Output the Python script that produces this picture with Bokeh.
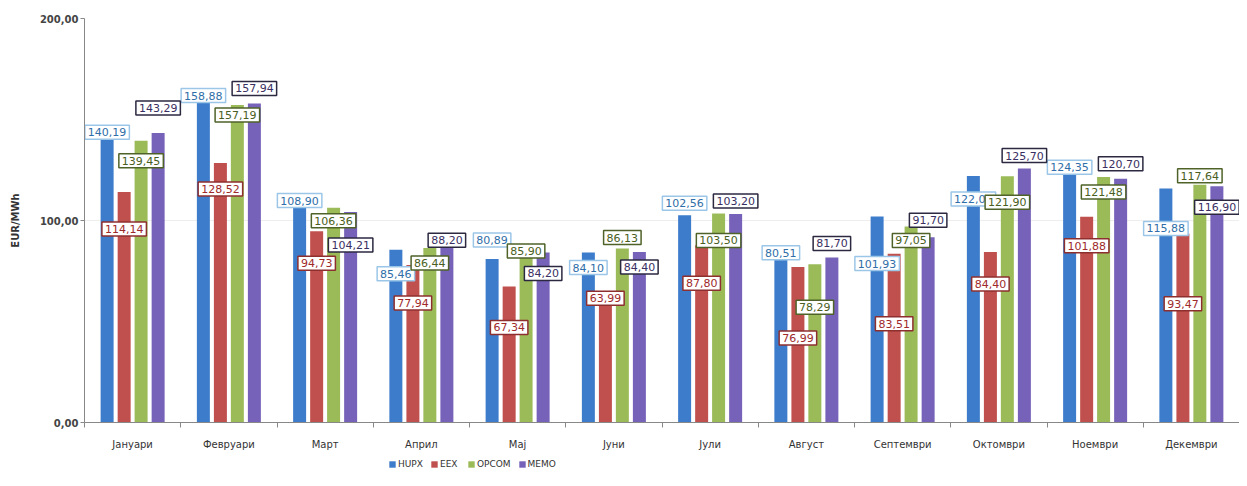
from bokeh.plotting import figure
from bokeh.layouts import column
from bokeh.models import ColumnDataSource, FixedTicker, Legend, LegendItem, Range1d
from bokeh.core.properties import value
from bokeh.embed import file_html
from bokeh.resources import INLINE

months = ["Јануари", "Февруари", "Март", "Април", "Мај", "Јуни",
          "Јули", "Август", "Септември", "Октомври", "Ноември", "Декември"]
series_names = ["HUPX", "EEX", "OPCOM", "MEMO"]
hupx = [140.19, 158.88, 108.90, 85.46, 80.89, 84.10, 102.56, 80.51, 101.93, 122.09, 124.35, 115.88]
eex = [114.14, 128.52, 94.73, 77.94, 67.34, 63.99, 87.80, 76.99, 83.51, 84.40, 101.88, 93.47]
opcom = [139.45, 157.19, 106.36, 86.44, 85.90, 86.13, 103.50, 78.29, 97.05, 121.90, 121.48, 117.64]
memo = [143.29, 157.94, 104.21, 88.20, 84.20, 84.40, 103.20, 81.70, 91.70, 125.70, 120.70, 116.90]
y_ticks = [0, 100, 200]
y_tick_labels = ["0,00", "100,00", "200,00"]

# label placement (screen px, positive = downwards from bar top) - styling only
label_shift = [
    [-7, -6, -2, 24, -19, 15, -12, -7, 47, 23, -4, 40],
    [37, 26, 32, 38, 41, 5, 38, 71, 70, 32, 29, 70],
    [20, 10, 13, 15, 2, -11, 27, 43, 14, 26, 15, -9],
    [-25, -15, 33, -4, 21, 15, -13, -14, -17, -13, -15, 21],
]

bar_colors = ["#3D7CCB", "#C0504D", "#9BBB59", "#7662B8"]
text_colors = ["#2F6EA8", "#9E2A2B", "#4A5E22", "#3A2F62"]
border_colors = ["#9CC6E8", "#8E2F2F", "#4F6228", "#2B2840"]
offsets = [-0.265, -0.088, 0.088, 0.265]
FONT = "DejaVu Sans"

p = figure(width=1239, height=452, x_range=Range1d(0, 12), y_range=Range1d(0, 200),
           output_backend="svg", toolbar_location=None,
           min_border_left=84, min_border_right=0, min_border_top=18, min_border_bottom=30)
p.outline_line_color = None
p.xgrid.grid_line_color = None
p.ygrid.grid_line_color = "#eeeeee"
p.ygrid.ticker = FixedTicker(ticks=[100])

centers = [i + 0.5 for i in range(len(months))]
renderers = []
for k, vals in enumerate([hupx, eex, opcom, memo]):
    src = ColumnDataSource(dict(
        x=[c + offsets[k] for c in centers],
        top=vals,
        txt=[f"{v:.2f}".replace(".", ",") for v in vals],
        yoff=label_shift[k],
    ))
    r = p.vbar(x="x", top="top", width=0.135, source=src, fill_color=bar_colors[k], line_color=None)
    renderers.append((r, src))

for k, (r, src) in enumerate(renderers):
    p.text(x="x", y="top", text="txt", y_offset="yoff", source=src,
           text_align="center", text_baseline="middle",
           text_font=value(FONT), text_font_size="11px", text_color=text_colors[k],
           background_fill_color="white", border_line_color=border_colors[k],
           border_line_width=1.5, padding=3)

# x axis
p.xaxis.ticker = FixedTicker(ticks=centers, minor_ticks=list(range(13)))
p.xaxis.major_label_overrides = {c: m for c, m in zip(centers, months)}
p.xaxis.major_tick_out = 0
p.xaxis.major_tick_in = 0
p.xaxis.minor_tick_out = 5
p.xaxis.minor_tick_in = 0
p.xaxis.minor_tick_line_color = "#888888"
p.xaxis.axis_line_color = "#888888"
p.xaxis.major_label_standoff = 11
p.xaxis.major_label_text_font = FONT
p.xaxis.major_label_text_font_size = "10px"
p.xaxis.major_label_text_color = "#333333"

# y axis
p.yaxis.ticker = FixedTicker(ticks=y_ticks)
p.yaxis.major_label_overrides = {t: l for t, l in zip(y_ticks, y_tick_labels)}
p.yaxis.minor_tick_line_color = None
p.yaxis.major_tick_out = 4
p.yaxis.major_tick_in = 0
p.yaxis.major_tick_line_color = "#888888"
p.yaxis.axis_line_color = "#888888"
p.yaxis.major_label_standoff = 2
p.yaxis.major_label_text_font = FONT
p.yaxis.major_label_text_font_size = "10px"
p.yaxis.major_label_text_font_style = "bold"
p.yaxis.major_label_text_color = "#444444"
p.yaxis.axis_label = "EUR/MWh"
p.yaxis.axis_label_text_font = FONT
p.yaxis.axis_label_text_font_size = "10px"
p.yaxis.axis_label_text_font_style = "bold"
p.yaxis.axis_label_text_color = "#333333"
p.yaxis.axis_label_standoff = 16

# legend strip
lg = figure(width=1239, height=18, x_range=Range1d(0, 1), y_range=Range1d(0, 1),
            output_backend="svg", toolbar_location=None,
            x_axis_location=None, y_axis_location=None,
            min_border_left=0, min_border_right=0, min_border_top=0, min_border_bottom=0)
lg.grid.visible = False
lg.outline_line_color = None
items = []
for k, n in enumerate(series_names):
    rr = lg.vbar(x=[0.5], top=[0], bottom=[0], width=0.01, fill_color=bar_colors[k], line_color=None)
    items.append(LegendItem(label=n, renderers=[rr]))
legend = Legend(items=items, orientation="horizontal", location=(304, 1))
legend.glyph_width = 8
legend.glyph_height = 8
legend.label_text_font = FONT
legend.label_text_font_size = "9px"
legend.label_text_color = "#333333"
legend.label_standoff = 2
legend.label_height = 10
legend.spacing = 7
legend.padding = 2
legend.margin = 0
legend.border_line_color = None
legend.background_fill_alpha = 0
lg.add_layout(legend)

layout = column(p, lg, spacing=0)
open("out.html", "w").write(file_html(layout, INLINE))
